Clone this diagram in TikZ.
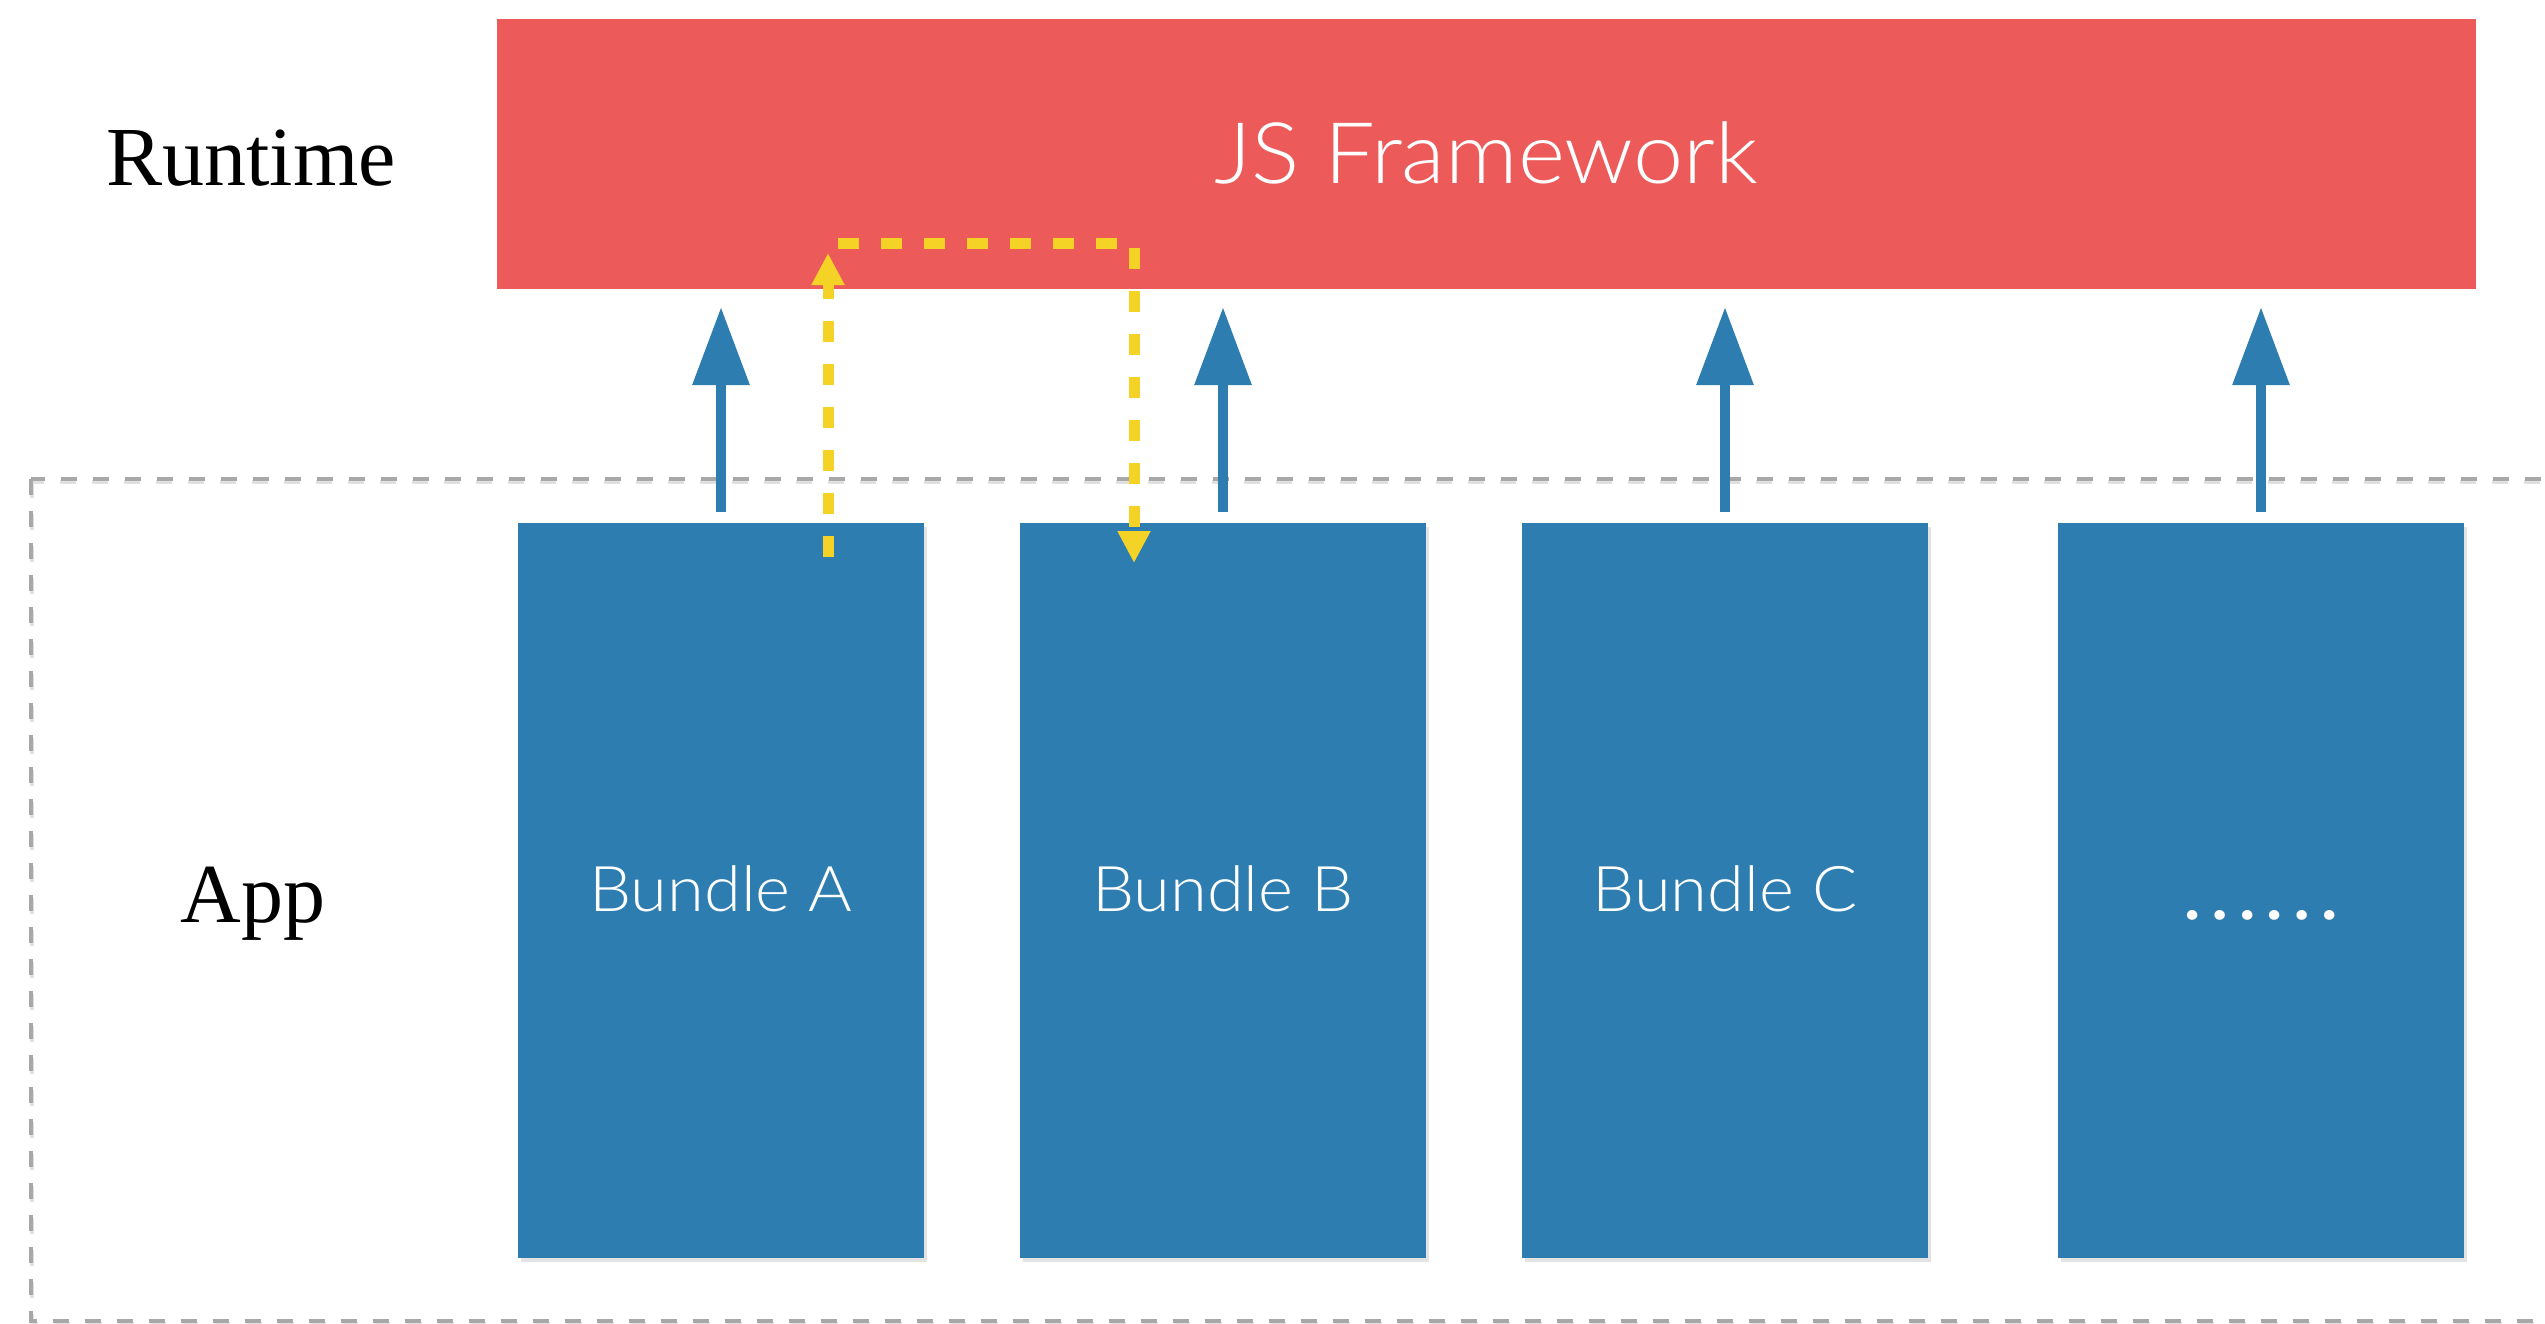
\documentclass[tikz,border=0pt]{standalone}
\usepackage{fontspec}
\setmainfont{Liberation Serif}
\newfontfamily\lightsans[FakeStretch=1.06]{Lato Light}
\usetikzlibrary{arrows.meta,shadows}
\definecolor{jsred}{HTML}{EC5B59}
\definecolor{bblue}{HTML}{2E7DB0}
\definecolor{ylw}{HTML}{F4D326}
\definecolor{dgrey}{HTML}{A8A8A8}
\tikzset{
  jsbox/.style={fill=jsred, draw=none, rectangle, inner sep=0pt},
  bundlebox/.style={fill=bblue, draw=none, rectangle, inner sep=0pt,
    minimum width=406pt, minimum height=735pt,
    drop shadow={shadow xshift=3pt, shadow yshift=-4pt, opacity=0.22}},
  upconn/.style={draw=bblue, line width=10pt,
    -{Triangle[length=78pt, width=55pt]}},
  yconn/.style={draw=ylw, line width=11pt, dash pattern=on 21pt off 22pt,
    -{Triangle[length=32pt, width=31pt]}},
  appframe/.style={draw=dgrey, line width=3.5pt, dash pattern=on 16pt off 16pt},
  appshadow/.style={draw=black!12, line width=3.5pt, dash pattern=on 16pt off 16pt},
  serifl/.style={font=\fontsize{84pt}{100pt}\selectfont, text=black, anchor=base, inner sep=0pt},
  bigl/.style={font=\lightsans\fontsize{85pt}{100pt}\selectfont, text=white, anchor=base, inner sep=0pt},
  bundl/.style={font=\lightsans\fontsize{63pt}{75pt}\selectfont, text=white, anchor=base, inner sep=0pt},
  dotl/.style={font=\lightsans\fontsize{106pt}{120pt}\selectfont, text=white, anchor=base, inner sep=0pt},
}
\begin{document}
\begin{tikzpicture}[x=1pt, y=-1pt]
\useasboundingbox (0,0) rectangle (2545,1323);
\fill[white] (0,0) rectangle (2545,1323);

% App frame (dashed), open to the right
\begin{scope}
  \clip (0,0) rectangle (2545,1323);
  \draw[appshadow] (32,482) rectangle (2700,1324);
  \draw[appframe] (31,479) rectangle (2700,1321);
\end{scope}

% JS Framework
\node[jsbox, minimum width=1979pt, minimum height=270pt] (js) at (1486.5,154) {};
\node[bigl] (tjs) at (1486,183) {JS Framework};

% labels
\node[serifl] (trun) at (251,185) {Runtime};
\node[serifl] (tapp) at (253,922) {App};

% bundles
\node[bundlebox] (bA) at (721,890.5) {};
\node[bundlebox] (bB) at (1223,890.5) {};
\node[bundlebox] (bC) at (1725,890.5) {};
\node[bundlebox] (bD) at (2261,890.5) {};

\node[bundl] (tA) at ([yshift=-20.5pt]bA.center) {Bundle A};
\node[bundl] (tB) at ([yshift=-20.5pt]bB.center) {Bundle B};
\node[bundl] (tC) at ([yshift=-20.5pt]bC.center) {Bundle C};
\node[dotl]  (tD) at ([yshift=-28.5pt]bD.center) {……};

% blue arrows
\foreach \b in {bA,bB,bC,bD}{
  \draw[upconn] ([yshift=11pt]\b.north) -- ([yshift=-18pt]\b.north |- js.south);
}

% yellow dashed connectors
\coordinate (ya0) at (828,557);
\coordinate (ya1) at (828,253);
\coordinate (yb0) at (838,243);
\coordinate (yb1) at (1134,563);
\draw[yconn] (ya0) -- (ya1);
\draw[yconn] (yb0) -- (yb0 -| yb1) -- (yb1);
\end{tikzpicture}
\end{document}
